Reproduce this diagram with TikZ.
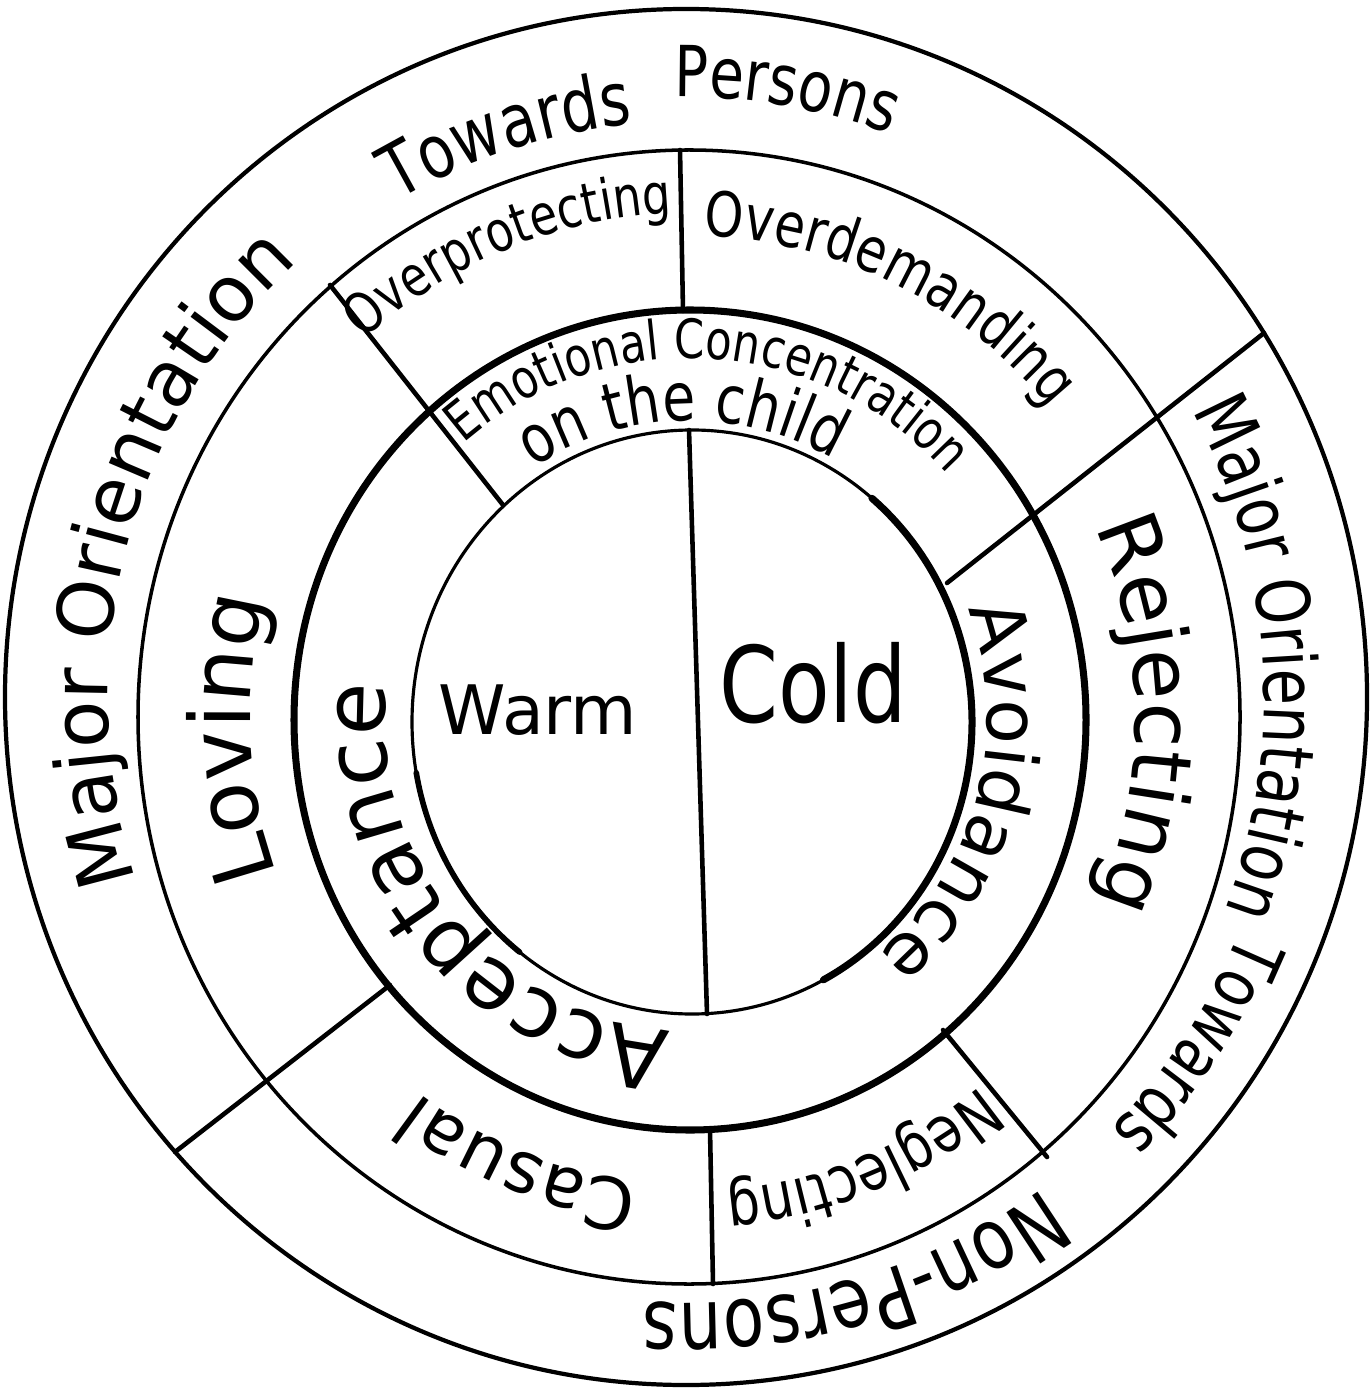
\documentclass[tikz,border=0pt]{standalone}
\usepackage{fontspec}
\newfontfamily\hand{DejaVu Sans}
\newfontfamily\handn[FakeStretch=0.8]{DejaVu Sans}
\usetikzlibrary{decorations.text}
\tikzset{
  curvetext/.style 2 args={decorate, decoration={text along path, text align=center,
     text={|\hand\fontsize{#1}{#1}\selectfont|#2}}},
  curvetextn/.style 2 args={decorate, decoration={text along path, text align=center,
     text={|\handn\fontsize{#1}{#1}\selectfont|#2}}},
  outerring/.style={line width=1.2pt},
  midring/.style={line width=1pt},
  boldring/.style={line width=2pt},
  innerring/.style={line width=0.9pt},
  divider/.style={line width=1.3pt},
  centertext/.style={inner sep=0pt},
}
\begin{document}
\begin{tikzpicture}[x=0.01cm,y=0.01cm,line cap=round,line join=round]
\fill[white] (0,0) rectangle (1369,-1389);
\useasboundingbox (0,0) rectangle (1369,-1389);

% circles
\draw[outerring] (686,-697) ellipse [x radius=681, y radius=688];
\draw[midring] (689,-717) ellipse [x radius=551, y radius=567];
\draw[boldring] (690,-720) ellipse [x radius=396, y radius=410];
\draw[innerring] (692,-722) ellipse [x radius=280, y radius=292];
\begin{scope}[shift={(692,-722)}]
  \draw[boldring] (50:280 and 292) arc[start angle=50, end angle=-62, x radius=280, y radius=292];
  \draw[line width=1.6pt] (190:280 and 292) arc[start angle=190, end angle=232, x radius=280, y radius=292];
\end{scope}

% dividers
\coordinate (l1a) at (680,-150); \coordinate (l1b) at (683,-311);
\coordinate (l2a) at (689,-430); \coordinate (l2b) at (707,-1014);
\coordinate (l3a) at (710,-1130); \coordinate (l3b) at (713,-1284);
\coordinate (l4a) at (330,-285); \coordinate (l4b) at (503,-505);
\coordinate (l5a) at (947,-583); \coordinate (l5b) at (1264,-333);
\coordinate (l6a) at (390,-985); \coordinate (l6b) at (175,-1152);
\coordinate (l7a) at (943,-1030); \coordinate (l7b) at (1047,-1157);
\draw[divider] (l1a) -- (l1b);
\draw[divider] (l2a) -- (l2b);
\draw[divider] (l3a) -- (l3b);
\draw[divider] (l4a) -- (l4b);
\draw[divider] (l5a) -- (l5b);
\draw[divider] (l6a) -- (l6b);
\draw[divider] (l7a) -- (l7b);

% outer band texts
\begin{scope}[shift={(686,-697)}]
  \path[curvetextn={21pt}{Towards}] (147.8:570 and 575) arc[start angle=147.8, end angle=67.8, x radius=570, y radius=575];
  \path[curvetextn={20pt}{Persons}] (120.5:590 and 600) arc[start angle=120.5, end angle=40.5, x radius=590, y radius=600];
  \path[curvetext={22pt}{Major Orientation}] (235:578 and 588) arc[start angle=235, end angle=95, x radius=578, y radius=588];
  \path[curvetextn={21pt}{Major Orientation}] (48.9:578 and 590) arc[start angle=48.9, end angle=-41.1, x radius=578, y radius=590];
  \path[curvetextn={20pt}{Towards}] (1:600 and 612) arc[start angle=1, end angle=-69, x radius=600, y radius=612];
  \path[curvetextn={24pt}{Non-Persons}] (-29:608 and 606) arc[start angle=-29, end angle=-119, x radius=608, y radius=606];
\end{scope}

% middle and ring texts
\begin{scope}[shift={(690,-718)}]
  \path[curvetextn={16pt}{Overprotecting}] (146.7:492 and 505) arc[start angle=146.7, end angle=76.7, x radius=492, y radius=505];
  \path[curvetextn={17.6pt}{Overdemanding}] (104.3:470 and 482) arc[start angle=104.3, end angle=24.3, x radius=470, y radius=482];
  \path[curvetext={24pt}{Loving}] (222.5:440 and 452) arc[start angle=222.5, end angle=142.5, x radius=440, y radius=452];
  \path[curvetext={23.4pt}{Rejecting}] (40.5:445 and 457) arc[start angle=40.5, end angle=-39.5, x radius=445, y radius=457];
  \path[curvetext={20.4pt}{Casual}] (283.6:455 and 467) arc[start angle=283.6, end angle=213.6, x radius=455, y radius=467];
  \path[curvetextn={18.5pt}{Neglecting}] (321.6:462 and 474) arc[start angle=321.6, end angle=261.6, x radius=462, y radius=474];
  \path[curvetextn={15.4pt}{Emotional Concentration}] (141.5:350 and 360) arc[start angle=141.5, end angle=31.5, x radius=350, y radius=360];
  \path[curvetextn={19pt}{on the child}] (136.5:290 and 297) arc[start angle=136.5, end angle=46.5, x radius=290, y radius=297];
  \path[curvetext={24.4pt}{Acceptance}] (280.2:305 and 313) arc[start angle=280.2, end angle=160.2, x radius=305, y radius=313];
  \path[curvetext={20.8pt}{Avoidance}] (35:297 and 305) arc[start angle=35, end angle=-65, x radius=297, y radius=305];
\end{scope}

% centre texts
\node[centertext, font=\hand\fontsize{19.4pt}{20pt}\selectfont] (warm) at (538,-710) {Warm};
\node[centertext, font=\handn\fontsize{30pt}{31pt}\selectfont] (cold) at (813,-683) {Cold};
\end{tikzpicture}
\end{document}
